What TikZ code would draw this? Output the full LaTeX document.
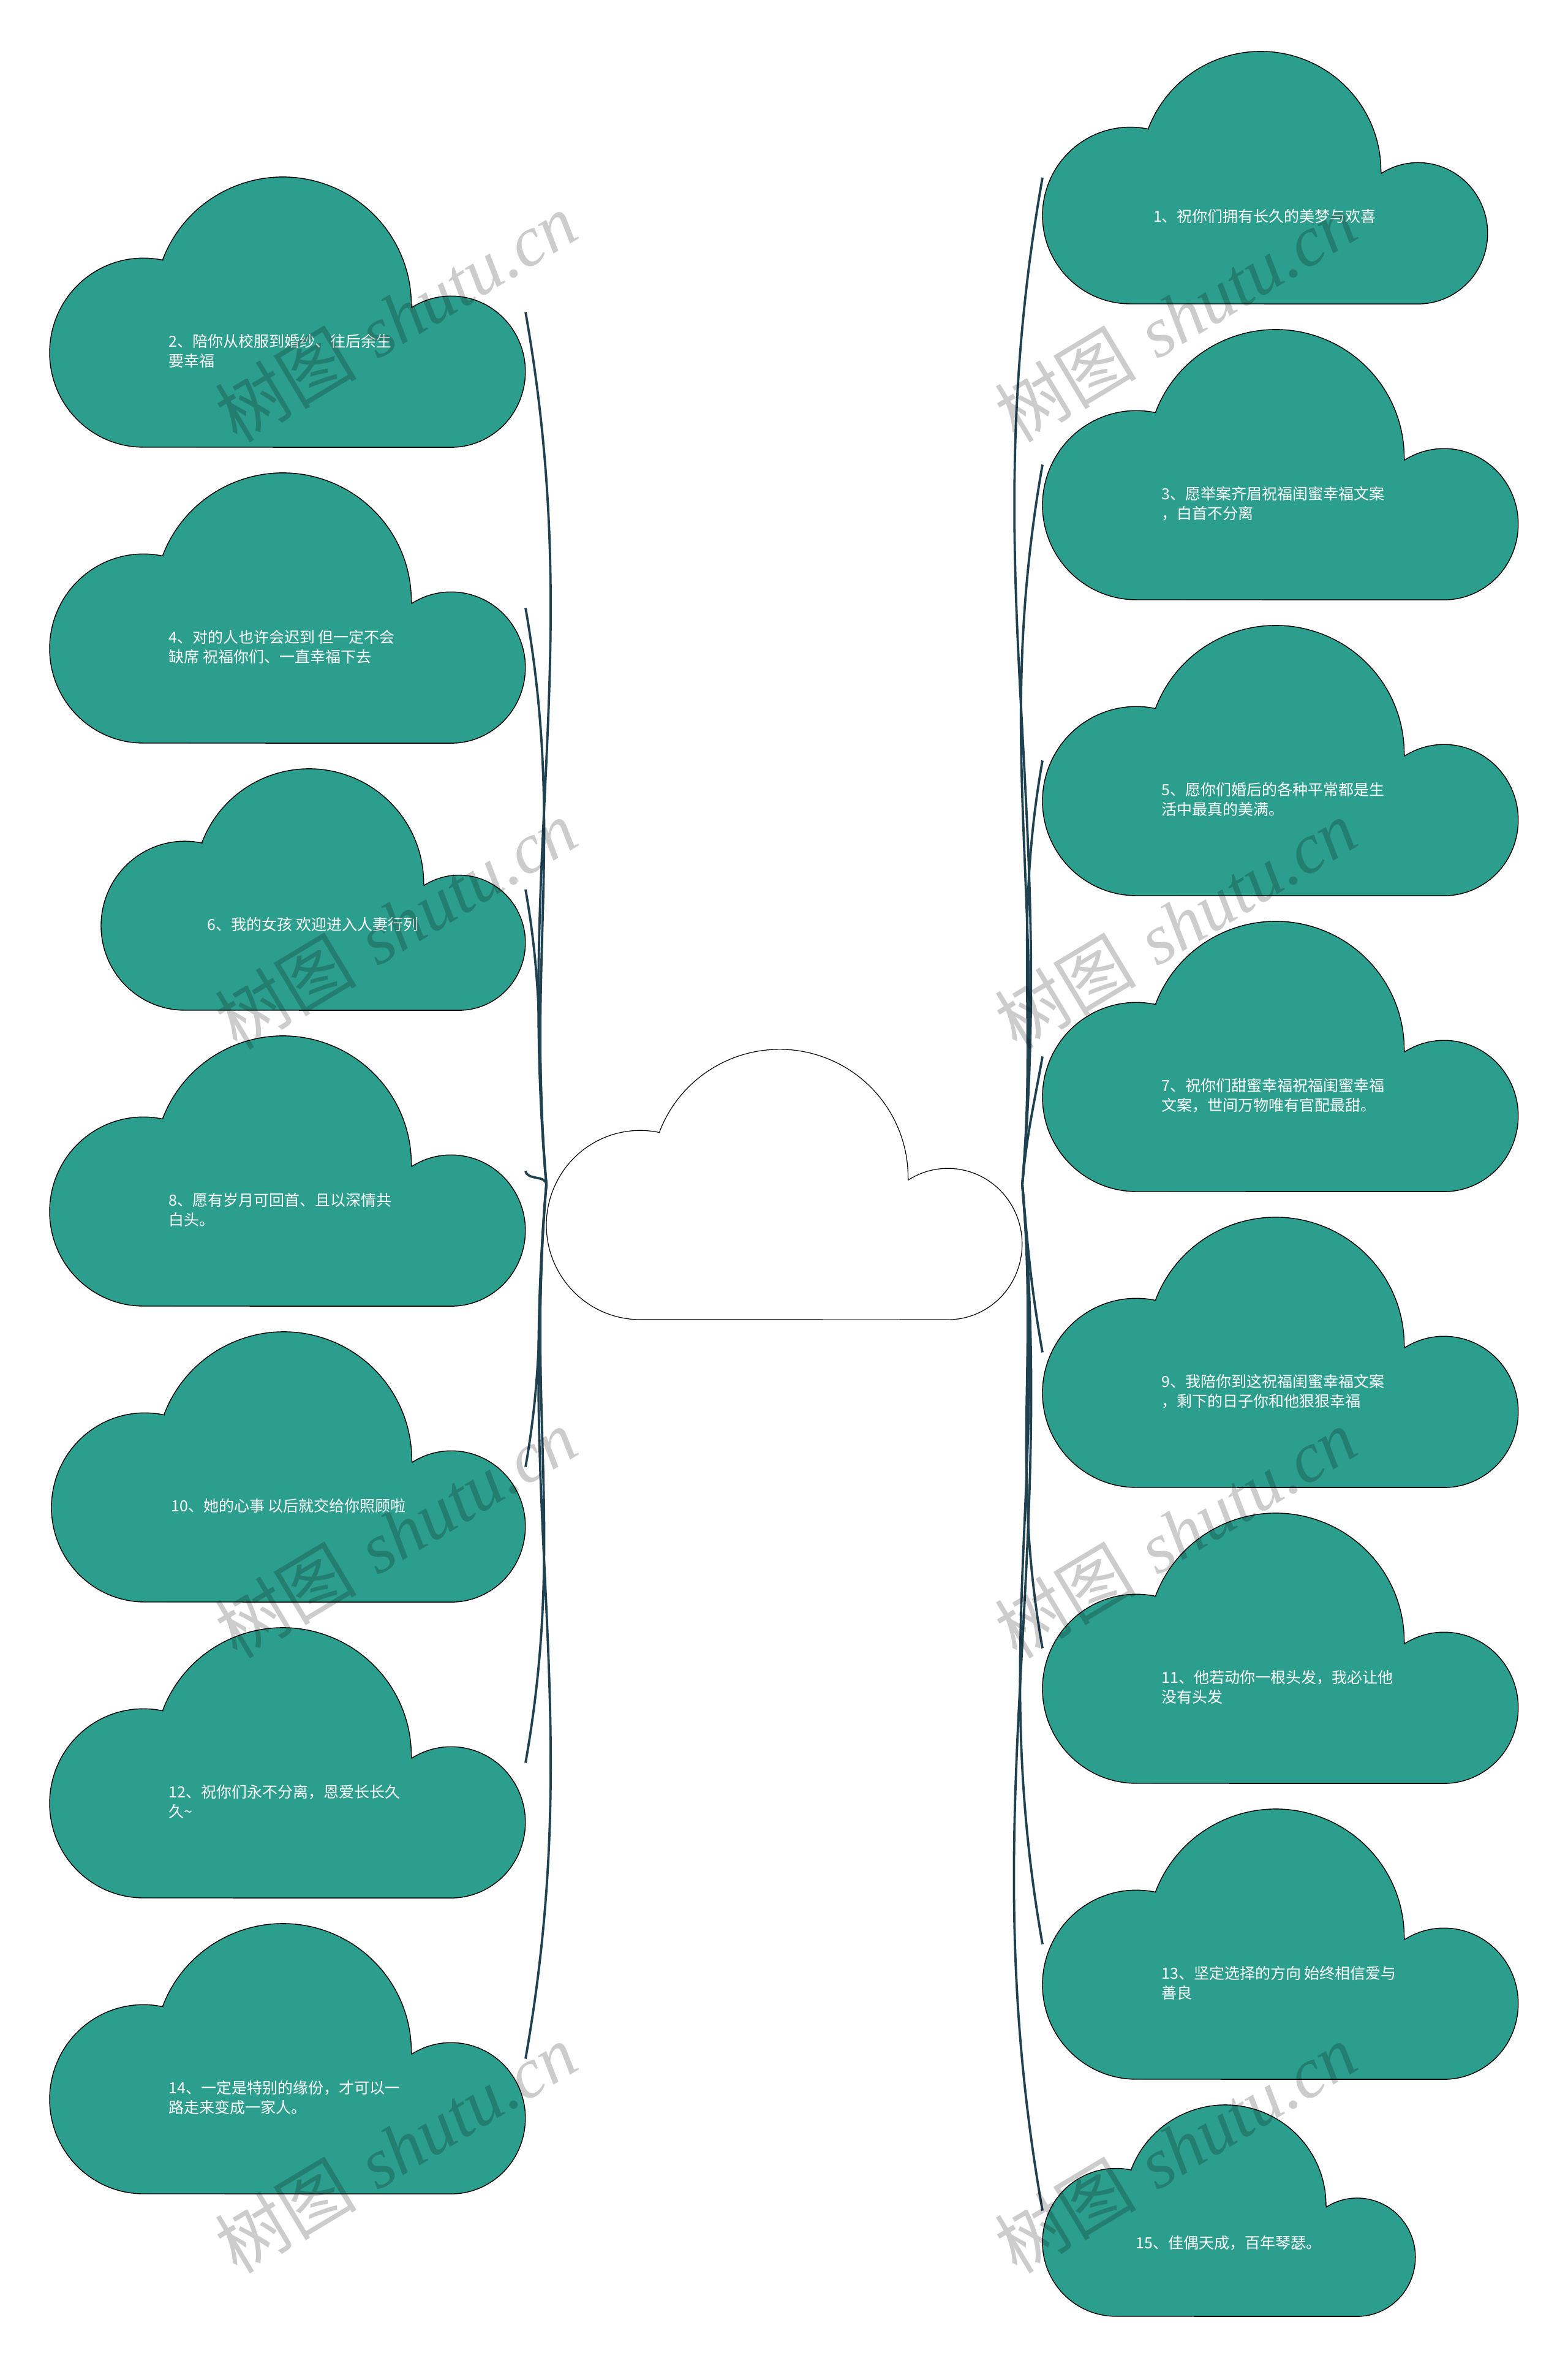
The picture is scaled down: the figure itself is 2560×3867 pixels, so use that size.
\documentclass[tikz,border=0pt]{standalone}
\usepackage{fontspec}
\newfontfamily\cjk{Noto Sans CJK SC}
\newfontfamily\wmserif{Liberation Serif}
\definecolor{tealfill}{RGB}{44,158,141}
\definecolor{connc}{RGB}{32,66,80}
\tikzset{
  cloudteal/.style={fill=tealfill, draw=black, line width=0.7pt},
  cloudwhite/.style={fill=white, draw=black, line width=0.6pt},
  txt/.style={font=\cjk\fontsize{12.5}{16}\selectfont, text=white, inner sep=0pt, align=left},
  conn/.style={draw=connc, line width=1.9pt},
  wm/.style={font=\fontsize{58}{60}\selectfont, text=black, text opacity=0.2, rotate=31, inner sep=0pt}
}
\newcommand\mycloud[6]{%
  \pgfmathsetmacro\cyb{3867-#3-#5}
  \begin{scope}[shift={(#2,\cyb)},xscale=#4,yscale=#5]
    \path[#6] (0.197,0) arc[start angle=270,end angle=78,x radius=0.197,y radius=0.35]
      -- (0.238,0.696) arc[start angle=159,end angle=0,x radius=0.27,y radius=0.474]
      -- (0.761,0.517) arc[start angle=122,end angle=-90,x radius=0.156,y radius=0.28] -- cycle;
  \end{scope}
  \node[inner sep=0pt,outer sep=0pt,minimum width=#4*0.5pt,minimum height=#5*0.5pt,anchor=south west] (#1) at (#2,\cyb) {};
}
\begin{document}
\begin{tikzpicture}[x=0.5pt,y=0.5pt]
\fill[white] (0,0) rectangle (2560,3867);
\useasboundingbox (0,0) rectangle (2560,3867);

% clouds
\mycloud{ctr}{892}{1713}{777}{441}{cloudwhite}
\mycloud{c2}{81}{289}{777}{441}{cloudteal}
\mycloud{c4}{81}{772}{777}{441}{cloudteal}
\mycloud{c6}{165}{1255}{693}{394}{cloudteal}
\mycloud{c8}{81}{1691}{777}{441}{cloudteal}
\mycloud{c10}{84}{2174}{774}{441}{cloudteal}
\mycloud{c12}{81}{2657}{777}{441}{cloudteal}
\mycloud{c14}{81}{3140}{777}{441}{cloudteal}
\mycloud{c1}{1702}{84}{727}{412}{cloudteal}
\mycloud{c3}{1702}{538}{777}{441}{cloudteal}
\mycloud{c5}{1702}{1021}{777}{441}{cloudteal}
\mycloud{c7}{1702}{1504}{777}{441}{cloudteal}
\mycloud{c9}{1702}{1987}{777}{441}{cloudteal}
\mycloud{c11}{1702}{2470}{777}{441}{cloudteal}
\mycloud{c13}{1702}{2953}{777}{441}{cloudteal}
\mycloud{c15}{1702}{3436}{609}{345}{cloudteal}

% connectors
\foreach \n in {c2,c4,c6,c8} \draw[conn] (ctr.west) to[out=95,in=-80] (\n.east);
\foreach \n in {c10,c12,c14} \draw[conn] (ctr.west) to[out=-95,in=80] (\n.east);
\foreach \n in {c1,c3,c5,c7} \draw[conn] (ctr.east) to[out=85,in=-100] (\n.west);
\foreach \n in {c9,c11,c13,c15} \draw[conn] (ctr.east) to[out=-85,in=100] (\n.west);

% texts
\node[txt,anchor=west] (t2) at (275,{3867-573}) {2、陪你从校服到婚纱、往后余生\\要幸福};
\node[txt,anchor=west] (t4) at (275,{3867-1056}) {4、对的人也许会迟到 但一定不会\\缺席 祝福你们、一直幸福下去};
\node[txt] (t6) at (511,{3867-1509}) {6、我的女孩 欢迎进入人妻行列};
\node[txt,anchor=west] (t8) at (275,{3867-1975}) {8、愿有岁月可回首、且以深情共\\白头。};
\node[txt] (t10) at (471,{3867-2458}) {10、她的心事 以后就交给你照顾啦};
\node[txt,anchor=west] (t12) at (275,{3867-2941}) {12、祝你们永不分离，恩爱长长久\\久\textasciitilde};
\node[txt,anchor=west] (t14) at (275,{3867-3424}) {14、一定是特别的缘份，才可以一\\路走来变成一家人。};
\node[txt] (t1) at (2065,{3867-353}) {1、祝你们拥有长久的美梦与欢喜};
\node[txt,anchor=west] (t3) at (1896,{3867-822}) {3、愿举案齐眉祝福闺蜜幸福文案\\，白首不分离};
\node[txt,anchor=west] (t5) at (1896,{3867-1305}) {5、愿你们婚后的各种平常都是生\\活中最真的美满。};
\node[txt,anchor=west] (t7) at (1896,{3867-1788}) {7、祝你们甜蜜幸福祝福闺蜜幸福\\文案，世间万物唯有官配最甜。};
\node[txt,anchor=west] (t9) at (1896,{3867-2271}) {9、我陪你到这祝福闺蜜幸福文案\\，剩下的日子你和他狠狠幸福};
\node[txt,anchor=west] (t11) at (1896,{3867-2754}) {11、他若动你一根头发，我必让他\\没有头发};
\node[txt,anchor=west] (t13) at (1896,{3867-3237}) {13、坚定选择的方向 始终相信爱与\\善良};
\node[txt] (t15) at (2006,{3867-3661}) {15、佳偶天成，百年琴瑟。};

% watermarks
\foreach \wx/\wy [count=\i] in {646/518,646/1509,646/2503,646/3507,1919/518,1919/1509,1919/2503,1919/3507}
  \node[wm] (wm\i) at (\wx,{3867-\wy}) {{\cjk 树图} {\wmserif\itshape shutu.cn}};
\end{tikzpicture}
\end{document}
